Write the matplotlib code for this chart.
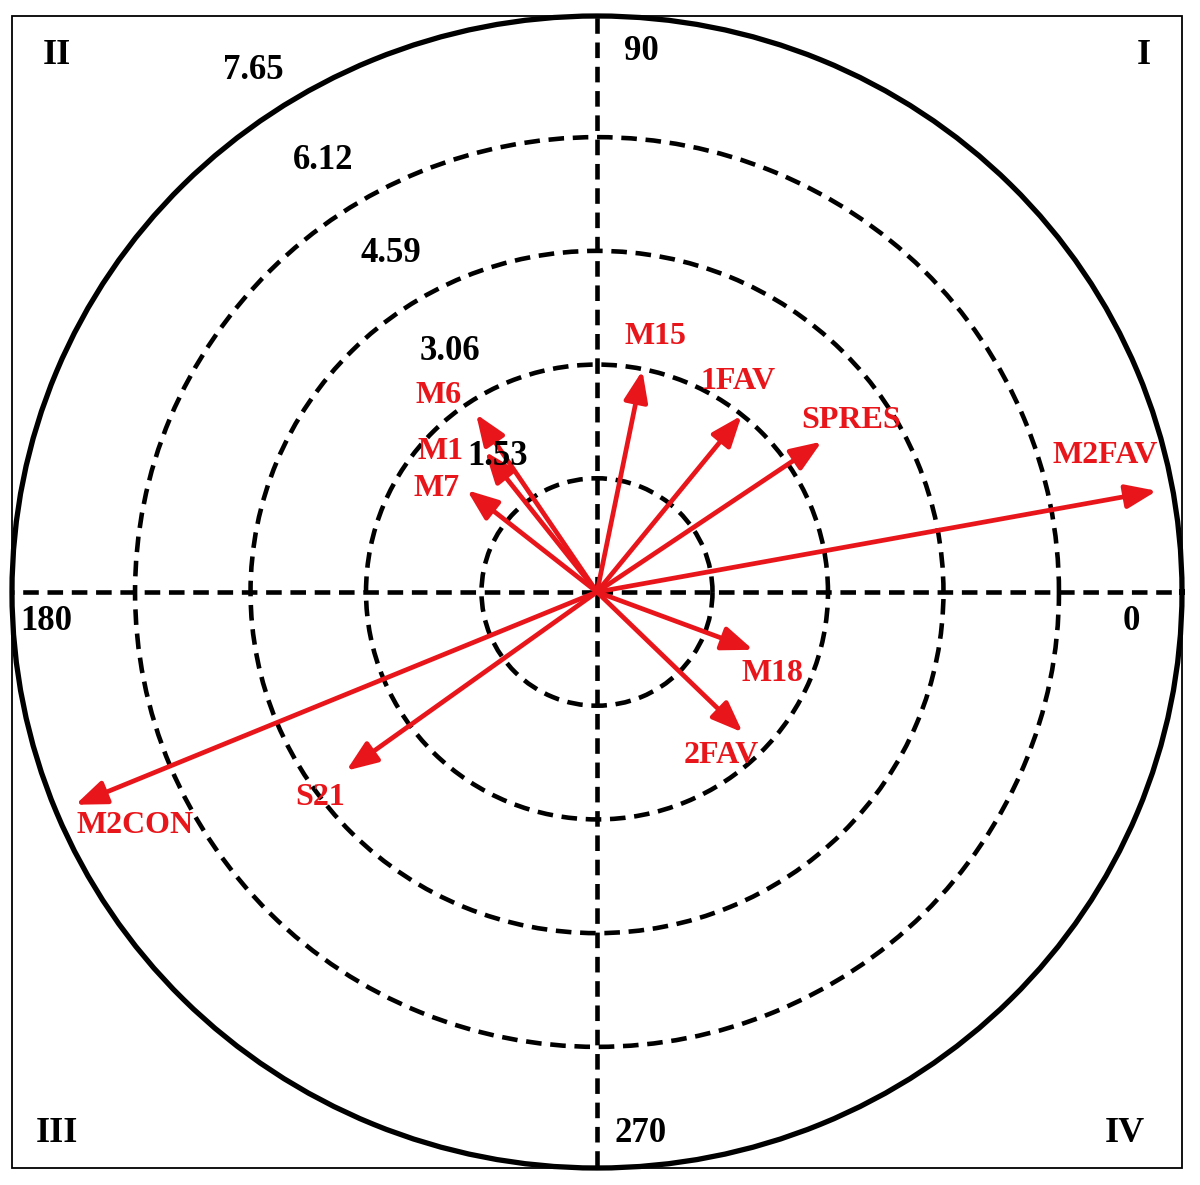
import numpy as np
import matplotlib
matplotlib.use("Agg")
import matplotlib.pyplot as plt
from matplotlib.patches import Rectangle

# vector data (angle in degrees, length in ring units)
traits = ['M2FAV', 'M2CON', 'S21', 'M18', '2FAV', 'M15', '1FAV', 'SPRES', 'M6', 'M1', 'M7']
angles = [10.4, 202.5, 215.9, 339.4, 315.6, 78.6, 51.1, 34.2, 123.8, 128.1, 141.5]
lengths = [7.54, 7.48, 4.10, 2.21, 2.70, 3.04, 3.05, 3.60, 2.88, 2.40, 2.20]

ring_values = [1.53, 3.06, 4.59, 6.12, 7.65]
angle_ticks = ['0', '90', '180', '270']
quadrants = ['I', 'II', 'III', 'IV']
r_max = 7.75

RED = '#e8161b'
FONT = 'Liberation Serif'

# label offsets from arrow tips, pixels
label_offsets = [(-52, 35), (60, -21), (-26, -27), (19, -24), (-21, -23), (13, 34),
                 (-4, 34), (29, 21), (-38, 19), (-45, 0), (-30, 2)]

fig = plt.figure(figsize=(12, 11.85), dpi=100)
box = [12 / 1200, 17 / 1185, 1170 / 1200, 1152 / 1185]
ax = fig.add_axes(box, projection='polar')
ax.set_aspect('auto')

ax.set_ylim(0, r_max)
ax.set_rgrids(ring_values[:-1], labels=[''] * 4)
ax.set_thetagrids([0, 90, 180, 270], labels=[''] * 4)
ax.grid(True, color='black', linestyle=(0, (3.4, 1.9)), linewidth=3.3)
ax.spines['polar'].set_linewidth(3.8)
ax.spines['polar'].set_color('black')

# frame around the plot
fig.patches.append(Rectangle((box[0], box[1]), box[2], box[3], transform=fig.transFigure,
                             fill=False, edgecolor='black', linewidth=1.3))

# arrows + labels
for name, a, r, off in zip(traits, angles, lengths, label_offsets):
    th = np.deg2rad(a)
    ax.annotate('', xy=(th, r), xytext=(0, 0),
                arrowprops=dict(arrowstyle='-|>,head_length=0.85,head_width=0.33',
                                color=RED, lw=3.4, mutation_scale=22,
                                shrinkA=0, shrinkB=0))
    ax.annotate(name, xy=(th, r), xytext=off, textcoords='offset pixels',
                ha='center', va='center', color=RED, fontsize=23,
                fontweight='bold', family=FONT)

# ring value labels
ring_angles = [126, 121, 121, 122, 123]
for v, a in zip(ring_values, ring_angles):
    ax.text(np.deg2rad(a), v + 0.72, f'{v:.2f}', ha='center', va='center',
            fontsize=25, fontweight='bold', family=FONT, clip_on=False)

# angle labels and quadrant numerals (axes fraction)
angle_pos = [(0.957, 0.474), (0.538, 0.969), (0.029, 0.474), (0.537, 0.030)]
for t, (x, y) in zip(angle_ticks, angle_pos):
    ax.text(x, y, t, transform=ax.transAxes, ha='center', va='center',
            fontsize=25, fontweight='bold', family=FONT)

quad_pos = [(0.967, 0.966), (0.038, 0.966), (0.038, 0.030), (0.951, 0.030)]
for t, (x, y) in zip(quadrants, quad_pos):
    ax.text(x, y, t, transform=ax.transAxes, ha='center', va='center',
            fontsize=26, fontweight='bold', family=FONT)

fig.savefig('out.png', dpi=100)
